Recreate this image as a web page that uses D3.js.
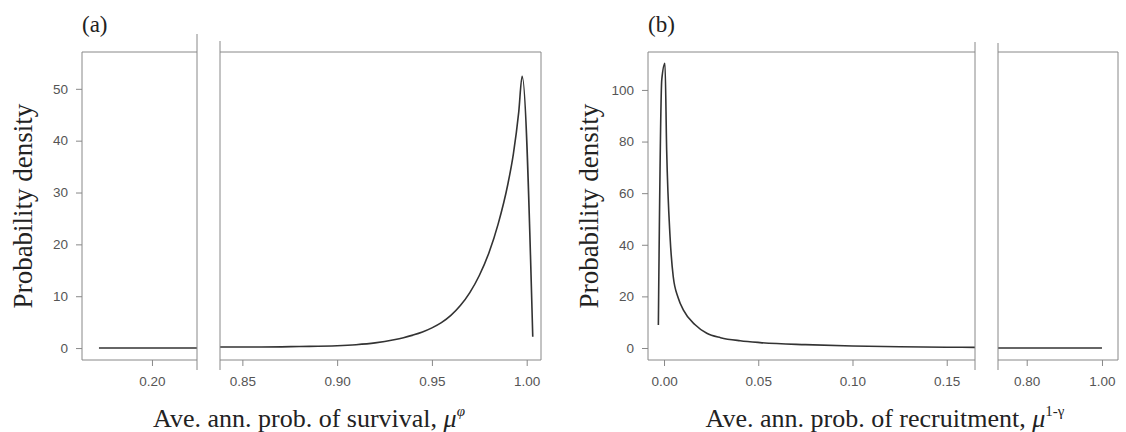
<!DOCTYPE html>
<html>
<head>
<meta charset="utf-8">
<script src="https://cdn.jsdelivr.net/npm/d3@7"></script>
<style>
  body { margin: 0; background: #fff; }
  .tick text { font-family: "Liberation Sans", Arial, sans-serif; font-size: 13.5px; fill: #555; }
  .tick line { stroke: #888; }
  .lbl { font-family: "Liberation Serif", "Times New Roman", serif; fill: #222; }
</style>
</head>
<body>
<svg id="chart" width="1126" height="432"></svg>
<script>
// panel (a): survival
var survivalLowX = [0.17, 0.2255];
var survivalLowY = [0, 0];
var survivalX = [0.8382, 0.86, 0.88, 0.90, 0.91, 0.92, 0.93, 0.935, 0.94, 0.945, 0.95, 0.955, 0.96, 0.965, 0.97, 0.975, 0.98, 0.985, 0.99, 0.993, 0.9958, 0.9976, 1.0032];
var survivalY = [0.2, 0.2, 0.3, 0.45, 0.65, 1.0, 1.6, 2.0, 2.5, 3.1, 3.9, 4.9, 6.3, 8.2, 10.7, 14.0, 18.3, 24.0, 31.5, 37.5, 45.5, 52.4, 2.2];
var survivalTicksLow = [0.20];
var survivalTicksHigh = [0.85, 0.90, 0.95, 1.00];
var survivalYTicks = [0, 10, 20, 30, 40, 50];

// panel (b): recruitment
var recruitX = [-0.0030, -0.0012, 0.0005, 0.0014, 0.0032, 0.0049, 0.0075, 0.0103, 0.0165, 0.0227, 0.030, 0.0404, 0.051, 0.075, 0.10, 0.125, 0.15, 0.165];
var recruitY = [8.9, 103.9, 110.3, 76.7, 43.1, 27.6, 19.5, 14.7, 9.0, 5.7, 4.0, 2.8, 2.1, 1.3, 0.8, 0.5, 0.3, 0.25];
var recruitHighX = [0.7237, 1.0];
var recruitHighY = [0, 0];
var recruitTicksLow = [0.00, 0.05, 0.10, 0.15];
var recruitTicksHigh = [0.80, 1.00];
var recruitYTicks = [0, 20, 40, 60, 80, 100];

var svg = d3.select('#chart');
var plotTop = 52, plotBottom = 360;
var axisColor = '#888', lineColor = '#333';

function drawPanel(p) {
  var g = svg.append('g');
  var y = d3.scaleLinear().domain(p.yDomain).range([plotBottom, plotTop]);
  var line = d3.line().curve(d3.curveMonotoneX)
    .x(function (d) { return d[0]; }).y(function (d) { return y(d[1]); });

  p.parts.forEach(function (part, i) {
    var x = d3.scaleLinear().domain(part.domain).range(part.range);
    var pts = part.xs.map(function (v, k) { return [x(v), part.ys[k]]; });
    g.append('path').datum(pts).attr('d', line)
      .attr('fill', 'none').attr('stroke', lineColor).attr('stroke-width', 1.6);
    var ax = g.append('g').attr('transform', 'translate(0,' + plotBottom + ')')
      .call(d3.axisBottom(x).tickValues(part.ticks).tickSize(6).tickPadding(10).tickFormat(d3.format('.2f')));
    ax.select('.domain').remove();
    // box sides
    var x0 = part.range[0], x1 = part.range[1];
    g.append('line').attr('x1', x0).attr('x2', x1).attr('y1', plotTop).attr('y2', plotTop).attr('stroke', axisColor);
    g.append('line').attr('x1', x0).attr('x2', x1).attr('y1', plotBottom).attr('y2', plotBottom).attr('stroke', axisColor);
    if (i === 0) {
      g.append('line').attr('x1', x0).attr('x2', x0).attr('y1', plotTop).attr('y2', plotBottom).attr('stroke', axisColor);
      g.append('line').attr('x1', x1).attr('x2', x1).attr('y1', p.breakTop[0]).attr('y2', 370).attr('stroke', axisColor);
    } else {
      g.append('line').attr('x1', x1).attr('x2', x1).attr('y1', plotTop).attr('y2', plotBottom).attr('stroke', axisColor);
      g.append('line').attr('x1', x0).attr('x2', x0).attr('y1', p.breakTop[1]).attr('y2', 370).attr('stroke', axisColor);
    }
  });

  var ay = g.append('g').attr('transform', 'translate(' + p.parts[0].range[0] + ',0)')
    .call(d3.axisLeft(y).tickValues(p.yTicks).tickSize(6).tickPadding(8));
  ay.select('.domain').remove();

  g.append('text').attr('class', 'lbl').attr('x', p.parts[0].range[0]).attr('y', 32)
    .attr('font-size', 23).text(p.tag);
  g.append('text').attr('class', 'lbl').attr('font-size', 27).attr('text-anchor', 'middle')
    .attr('transform', 'translate(' + p.yLabelX + ',' + ((plotTop + plotBottom) / 2) + ') rotate(-90)')
    .text('Probability density');
  var xl = g.append('text').attr('class', 'lbl').attr('font-size', 26).attr('text-anchor', 'middle')
    .attr('x', p.xLabelX).attr('y', 427);
  xl.append('tspan').text(p.xLabel);
  xl.append('tspan').attr('font-style', 'italic').text('μ');
  xl.append('tspan').attr('font-size', 15).attr('dy', -11).attr('font-style', p.supItalic ? 'italic' : 'normal').text(p.sup);
}

drawPanel({
  tag: '(a)', yDomain: [-2.3, 57.1], yTicks: survivalYTicks, yLabelX: 32, xLabelX: 309,
  xLabel: 'Ave. ann. prob. of survival, ', sup: 'φ', supItalic: true, breakTop: [34, 41],
  parts: [
    { domain: [0.1604, 0.2255], range: [82, 197], xs: survivalLowX, ys: survivalLowY, ticks: survivalTicksLow },
    { domain: [0.8382, 1.00755], range: [220, 541], xs: survivalX, ys: survivalY, ticks: survivalTicksHigh }
  ]
});

drawPanel({
  tag: '(b)', yDomain: [-4.65, 114.7], yTicks: recruitYTicks, yLabelX: 598, xLabelX: 885,
  xLabel: 'Ave. ann. prob. of recruitment, ', sup: '1-γ', supItalic: false, breakTop: [42, 43],
  parts: [
    { domain: [-0.0085, 0.165], range: [648, 975], xs: recruitX, ys: recruitY, ticks: recruitTicksLow },
    { domain: [0.7237, 1.0426], range: [998, 1118], xs: recruitHighX, ys: recruitHighY, ticks: recruitTicksHigh }
  ]
});
</script>
</body>
</html>
